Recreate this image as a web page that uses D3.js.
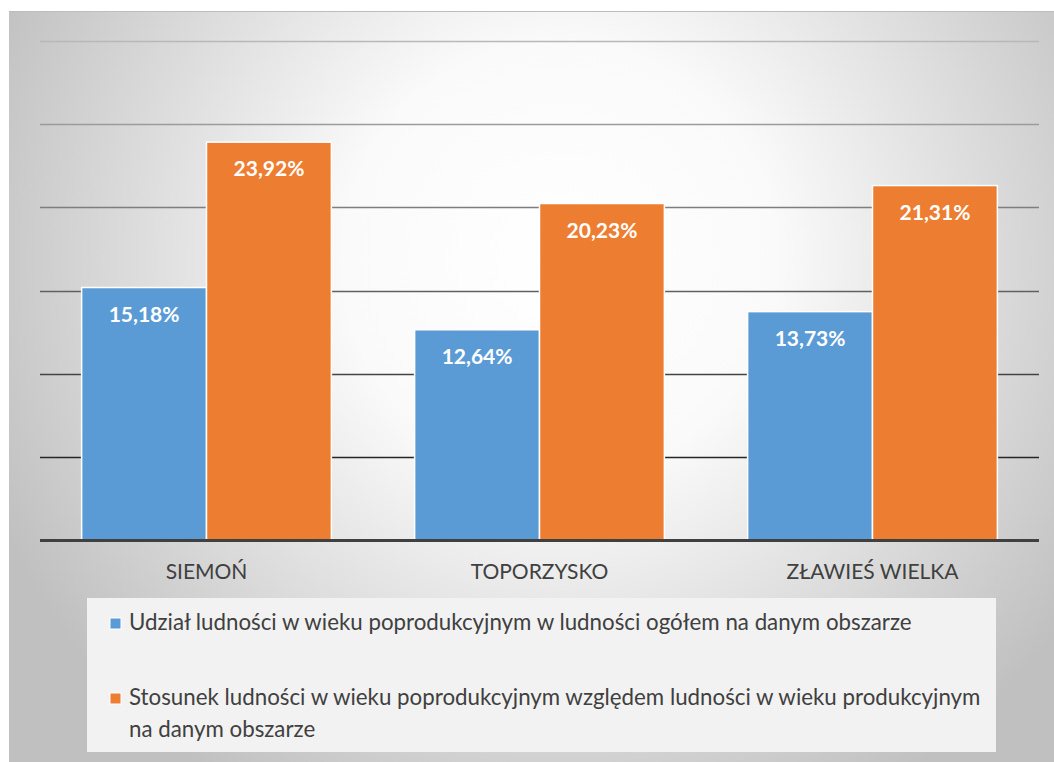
<!DOCTYPE html>
<html>
<head>
<meta charset="utf-8">
<script src="https://cdn.jsdelivr.net/npm/d3@7"></script>
<style>
  body { margin: 0; background: #fff; }
  svg { display: block; }
  text { font-family: Lato, "Open Sans", sans-serif; }
</style>
</head>
<body>
<div id="chart"></div>
<script>
const categories = ['SIEMOŃ', 'TOPORZYSKO', 'ZŁAWIEŚ WIELKA'];
const seriesNames = [
    'Udział ludności w wieku poprodukcyjnym w ludności ogółem na danym obszarze',
    'Stosunek ludności w wieku poprodukcyjnym względem ludności w wieku produkcyjnym na danym obszarze'
];
const seriesShare = [15.18, 12.64, 13.73];
const seriesRatio = [23.92, 20.23, 21.31];
const yTicks = [0, 5, 10, 15, 20, 25, 30];

const width = 1054;
const height = 762;
const colors = ['#5b9bd5', '#ed7d31'];

const svg = d3.select('#chart').append('svg')
    .attr('width', width)
    .attr('height', height);

// background gradient of the chart area
const defs = svg.append('defs');
const grad = defs.append('radialGradient')
    .attr('id', 'bg')
    .attr('gradientUnits', 'userSpaceOnUse')
    .attr('cx', 560).attr('cy', 260).attr('r', 620);
grad.append('stop').attr('offset', '0%').attr('stop-color', '#ffffff');
grad.append('stop').attr('offset', '35%').attr('stop-color', '#fafafa');
grad.append('stop').attr('offset', '100%').attr('stop-color', '#c0c0c0');

svg.append('rect')
    .attr('x', 9).attr('y', 11)
    .attr('width', width - 9).attr('height', height - 11)
    .attr('fill', 'url(#bg)');
svg.append('line')
    .attr('x1', 9).attr('x2', width)
    .attr('y1', 11.5).attr('y2', 11.5)
    .attr('stroke', '#bdbdbd');

const margin = { left: 40, right: 1039, top: 41, bottom: 540 };

const x0 = d3.scaleBand()
    .domain(categories)
    .range([margin.left, margin.right])
    .paddingInner(0.25)
    .paddingOuter(0.125);

const x1 = d3.scaleBand()
    .domain([0, 1])
    .range([0, x0.bandwidth()]);

const y = d3.scaleLinear()
    .domain([0, 30])
    .range([margin.bottom, margin.top]);

// gridlines, darker toward the bottom
const gridColor = d3.scaleLinear()
    .domain([30, 5])
    .range(['#b8b8b8', '#262626']);

svg.append('g')
    .selectAll('line')
    .data(yTicks.filter(d => d > 0))
    .enter()
    .append('line')
    .attr('x1', margin.left)
    .attr('x2', margin.right)
    .attr('y1', d => Math.round(y(d)) + 0.5)
    .attr('y2', d => Math.round(y(d)) + 0.5)
    .attr('stroke', d => gridColor(d))
    .attr('stroke-width', 1.6);

const rows = categories.map((c, i) => ({ cat: c, values: [seriesShare[i], seriesRatio[i]] }));

const groups = svg.append('g')
    .selectAll('g')
    .data(rows)
    .enter()
    .append('g')
    .attr('transform', d => `translate(${x0(d.cat)},0)`);

groups.selectAll('rect')
    .data(d => d.values.map((v, s) => ({ v, s })))
    .enter()
    .append('rect')
    .attr('x', d => x1(d.s))
    .attr('y', d => y(d.v))
    .attr('width', x1.bandwidth())
    .attr('height', d => y(0) - y(d.v))
    .attr('fill', d => colors[d.s])
    .attr('stroke', '#ffffff')
    .attr('stroke-width', 1.5);

groups.selectAll('text.val')
    .data(d => d.values.map((v, s) => ({ v, s })))
    .enter()
    .append('text')
    .attr('class', 'val')
    .attr('x', d => x1(d.s) + x1.bandwidth() / 2)
    .attr('y', d => y(d.v) + 34)
    .attr('text-anchor', 'middle')
    .attr('fill', '#ffffff')
    .attr('font-weight', 'bold')
    .attr('font-size', 21)
    .text(d => d.v.toFixed(2).replace('.', ',') + '%');

// baseline
svg.append('line')
    .attr('x1', margin.left).attr('x2', margin.right)
    .attr('y1', y(0) + 0.5).attr('y2', y(0) + 0.5)
    .attr('stroke', '#404040')
    .attr('stroke-width', 3);

// category labels
svg.append('g')
    .selectAll('text')
    .data(categories)
    .enter()
    .append('text')
    .attr('x', d => x0(d) + x0.bandwidth() / 2)
    .attr('y', 579)
    .attr('text-anchor', 'middle')
    .attr('fill', '#404040')
    .attr('font-size', 21)
    .text(d => d);

// legend
const legend = svg.append('g');
legend.append('rect')
    .attr('x', 87).attr('y', 598)
    .attr('width', 909).attr('height', 154)
    .attr('fill', '#f2f2f2');

const legendLines = [
    [seriesNames[0]],
    ['Stosunek ludności w wieku poprodukcyjnym względem ludności w wieku produkcyjnym', 'na danym obszarze']
];
const legendY = [630, 705];

legendLines.forEach((lines, i) => {
    legend.append('rect')
        .attr('x', 110).attr('y', legendY[i] - 12)
        .attr('width', 11).attr('height', 11)
        .attr('fill', colors[i])
        .attr('stroke', '#ffffff')
        .attr('stroke-width', 1);
    const t = legend.append('text')
        .attr('x', 129)
        .attr('y', legendY[i])
        .attr('fill', '#404040')
        .attr('font-size', 22.3);
    lines.forEach((l, j) => {
        t.append('tspan')
            .attr('x', 129)
            .attr('dy', j === 0 ? 0 : 32)
            .text(l);
    });
});
</script>
</body>
</html>
